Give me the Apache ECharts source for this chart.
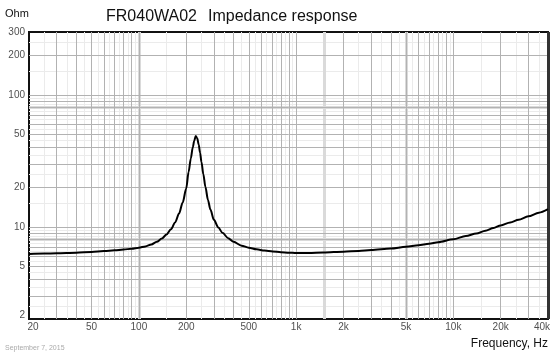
<!DOCTYPE html>
<html><head><meta charset="utf-8">
<script src="https://cdn.jsdelivr.net/npm/echarts@6/dist/echarts.min.js"></script>
<style>html,body{margin:0;padding:0;background:#fff}#c{width:559px;height:356px}</style>
</head><body><div id="c"></div><script>
// ---- data ----
const freq = [20,25,30,40,50,60,70,80,90,100,110,120,130,140,150,160,170,180,190,200,207,214,220,225,230,235,240,245,250,257,265,275,285,300,320,340,370,400,450,500,560,630,710,800,900,1000,1200,1500,2000,2500,3000,4000,5000,6000,7000,8000,10000,12000,14000,16000,18000,20000,23000,26000,30000,35000,40000];
const ohm = [6.22,6.27,6.3,6.36,6.45,6.55,6.63,6.72,6.83,6.95,7.1,7.35,7.7,8.15,8.75,9.6,10.8,12.6,15.3,19.5,26,33,40,45,48.8,47,42,36.5,31,25,20,16,13.5,11.3,9.9,9.0,8.2,7.7,7.2,6.95,6.75,6.6,6.5,6.42,6.37,6.33,6.33,6.38,6.48,6.57,6.66,6.85,7.05,7.25,7.45,7.65,8.05,8.5,8.9,9.35,9.8,10.25,10.8,11.3,12.0,12.8,13.6];
const xTickValues = [20,50,100,200,500,1000,2000,5000,10000,20000,40000];
const xTickLabels = ['20','50','100','200','500','1k','2k','5k','10k','20k','40k'];
const yTickValues = [2,5,10,20,50,100,200,300];
const yTickLabels = ['2','5','10','20','50','100','200','300'];
const xGridMain = [30,40,50,60,70,80,90,100,200,300,400,500,600,700,800,900,1000,2000,3000,4000,5000,6000,7000,8000,9000,10000,20000,30000];
const xGridHalf = [25,35,45,55,65,75,85,95,150,250,350,450,550,650,750,850,950,1500,2500,3500,4500,5500,6500,7500,8500,9500,15000,25000,35000];
const xGridWide = [100,1500,5000];
const yGridMain = [3,4,5,6,7,8,9,10,20,30,40,50,60,70,80,90,100,200];
const yGridHalf = [2.5,3.5,4.5,5.5,6.5,7.5,8.5,9.5,15,25,35,45,55,65,75,85,95,150,250];
const yGridWide = [8,80];
const xBorderRight = [40000];

const chart = echarts.init(document.getElementById('c'), null, {renderer:'canvas'});
const GRID = {left:29, top:32, width:519, height:287};
function gridSeries(name, xs, ys, color, width, z){
  return {
    name, type:'line', data:[], z, silent:true, animation:false,
    markLine:{silent:true, symbol:'none', animation:false, label:{show:false},
      lineStyle:{color, width, type:'solid'},
      emphasis:{disabled:true},
      data:[...xs.map(v=>({xAxis:v})), ...ys.map(v=>({yAxis:v}))]}
  };
}
const font = 'Arial, "Liberation Sans", sans-serif';
chart.setOption({
  animation:false,
  grid:{...GRID, show:true, borderColor:'#111', borderWidth:2, backgroundColor:'#fff', z:0},
  xAxis:{type:'log', logBase:10, min:20, max:40000, axisLine:{show:false}, axisTick:{show:false}, axisLabel:{show:false}, splitLine:{show:false}},
  yAxis:{type:'log', logBase:10, min:2, max:300, axisLine:{show:false}, axisTick:{show:false}, axisLabel:{show:false}, splitLine:{show:false}},
  series:[
    gridSeries('gHalf', xGridHalf, yGridHalf, '#ebebeb', 1, 1),
    gridSeries('gWide', xGridWide, yGridWide, '#dadada', 3, 2),
    gridSeries('gMain', xGridMain, yGridMain, '#b2b2b2', 1, 3),
    gridSeries('gRight', xBorderRight, [], '#333', 3, 4),
    {type:'line', name:'Impedance', data:freq.map((f,i)=>[f,ohm[i]]), showSymbol:false, symbol:'none',
     smooth:0.3, smoothMonotone:'x', lineStyle:{color:'#000', width:2}, z:10, silent:true},
    {type:'scatter', name:'xlabels', symbolSize:0, clip:false, silent:true, z:11,
     data:xTickValues.map((v,i)=>({value:[v,2], name:xTickLabels[i],
       label:{offset: i===0?[4,0]:(i===xTickValues.length-1?[-6,0]:[0,0])}})),
     label:{show:true, position:'bottom', distance:3, formatter:p=>p.name, color:'#222', fontSize:10, fontFamily:font}},
    {type:'scatter', name:'ylabels', symbolSize:0, clip:false, silent:true, z:11,
     data:yTickValues.map((v,i)=>({value:[20,v], name:yTickLabels[i],
       label:{offset: i===0?[0,-4]:[0,0]}})),
     label:{show:true, position:'left', distance:4, formatter:p=>p.name, color:'#222', fontSize:10, fontFamily:font}}
  ],
  graphic:[
    {type:'text', left:5, top:8, style:{text:'Ohm', font:'11px '+font, fill:'#111'}},
    {type:'text', left:106, top:9, style:{text:'FR040WA02', font:'16px '+font, fill:'#111'}},
    {type:'text', left:208, top:9, style:{text:'Impedance response', font:'16px '+font, fill:'#111'}},
    {type:'text', right:11, top:338, style:{text:'Frequency, Hz', font:'12px '+font, fill:'#111'}},
    {type:'text', left:5, top:345, style:{text:'September 7, 2015', font:'7px '+font, fill:'#aaa'}}
  ]
});
</script></body></html>
